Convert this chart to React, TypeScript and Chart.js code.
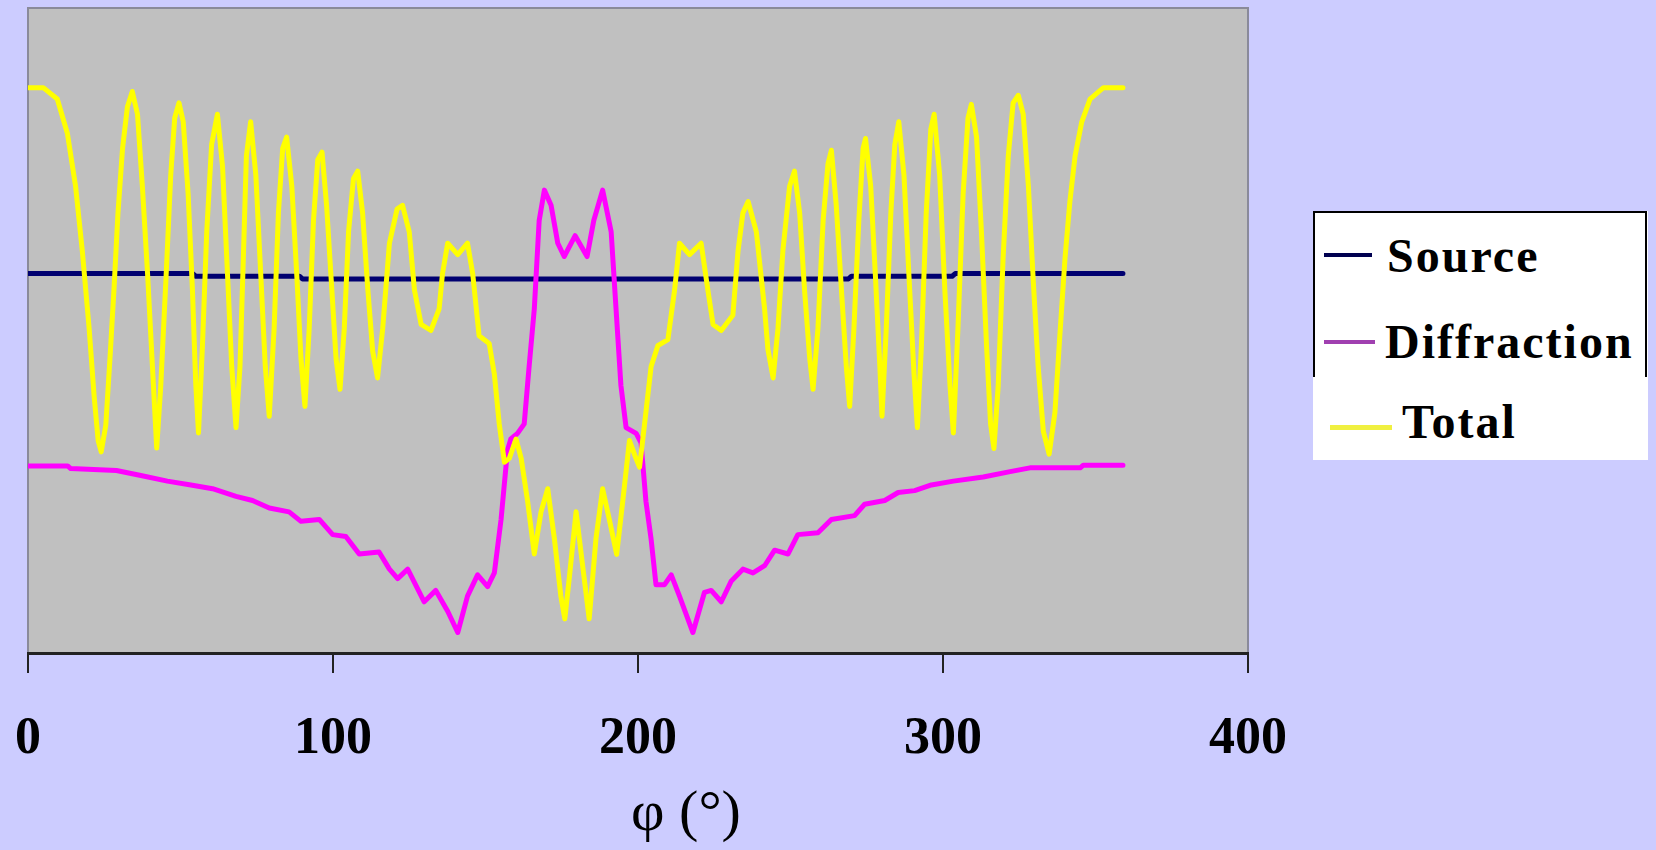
import React, { useEffect, useRef } from "react";
import { Chart, registerables } from "chart.js";

Chart.register(...registerables);

// x-axis ticks (degrees)
const xTicks = [0, 100, 200, 300, 400];

// Source series
const sourcePhi = [0, 54, 55, 89, 90, 269, 270, 303, 304, 359];
const sourceVal = [1.0, 1.0, 0.993, 0.993, 0.986, 0.986, 0.993, 0.993, 1.0, 1.0];

// Diffraction series
const diffPhi = [
  0, 13, 14, 29, 37, 45.7, 53.4, 60.5, 68.2, 73.6,
  79.1, 85.6, 89.5, 95.5, 99.9, 104.2, 108.6, 115.1, 118.5, 121.2,
  124.5, 129.9, 133.7, 137.6, 140.9, 144.1, 147.4, 150.7, 152.9, 155.1,
  157.2, 158.3, 160.5, 162.7, 164.3, 166, 167.6, 169.3, 171.5, 173.7,
  175.8, 179.4, 183.3, 185.5, 188.4, 191.2, 192.8, 194.4, 196.1, 199.4,
  201, 202.6, 204.3, 205.9, 208.7, 210.9, 213.6, 218, 221.8, 224,
  227.3, 230.6, 234.4, 237.7, 241.5, 244.8, 249.2, 252.4, 259, 263.4,
  271, 274.3, 280.9, 285.3, 290.7, 296.2, 303.4, 313.2, 322, 328.5,
  345, 346, 359,
];
const diffVal = [
  0.493, 0.493, 0.486, 0.481, 0.468, 0.453, 0.443, 0.433, 0.413, 0.402,
  0.382, 0.372, 0.347, 0.352, 0.312, 0.307, 0.261, 0.266, 0.221, 0.196,
  0.221, 0.135, 0.165, 0.11, 0.054, 0.15, 0.206, 0.175, 0.211, 0.352,
  0.534, 0.564, 0.579, 0.604, 0.755, 0.907, 1.14, 1.22, 1.18, 1.08,
  1.045, 1.1, 1.045, 1.14, 1.22, 1.11, 0.907, 0.705, 0.594, 0.579,
  0.554, 0.4, 0.3, 0.18, 0.18, 0.206, 0.15, 0.054, 0.16, 0.165,
  0.135, 0.19, 0.221, 0.211, 0.23, 0.271, 0.261, 0.312, 0.317, 0.352,
  0.362, 0.392, 0.402, 0.423, 0.428, 0.443, 0.453, 0.464, 0.478, 0.488,
  0.488, 0.495, 0.495,
];

// Total series
const totalPhi = [
  0, 5, 9.6, 12.9, 15.6, 17.8, 20, 21.7, 23, 24,
  25.5, 26.9, 28.2, 29.5, 31, 32.6, 34.2, 35.9, 37.5, 39.2,
  40.8, 42.2, 43.5, 45.2, 46.8, 48.1, 49.5, 50.9, 52.5, 53.9,
  55, 55.9, 57.2, 58.6, 60.2, 62.1, 63.8, 65.4, 66.8, 68.2,
  69.5, 70.6, 71.6, 73, 74.7, 76.3, 77.8, 79.1, 80.7, 82.1,
  83.5, 84.8, 86.5, 88.1, 89.5, 90.8, 92.2, 93.6, 95, 96.4,
  97.9, 99.6, 101, 102.3, 103.7, 105.1, 106.7, 108.1, 109.7, 111.4,
  113, 114.6, 116.3, 118.5, 121, 122.8, 125, 126.7, 128.9, 132.1,
  134.8, 135.9, 137.6, 140.9, 144.1, 145.8, 147.9, 151.2, 152.9, 154.5,
  156.2, 157.8, 160, 161.7, 163.8, 166, 168.2, 170.4, 172.6, 174.7,
  176, 177.5, 179.7, 182, 184, 186.2, 188.4, 190.6, 193, 195,
  197.2, 199, 200.5, 202.1, 204.3, 206.5, 209.8, 212, 213.6, 216.9,
  220.7, 222.9, 224.6, 227.3, 231.1, 232.8, 234.4, 236.1, 238.8, 241.5,
  242.6, 244.3, 245.9, 247.5, 249.7, 251.3, 253, 254.6, 256.3, 257.4,
  259, 260.7, 262.3, 263.4, 265, 266.7, 268.3, 269.4, 270.8, 272.4,
  273.8, 274.6, 276.3, 277.8, 279.3, 280, 281.4, 282.9, 284.2, 285.5,
  287.2, 288.8, 290.5, 291.6, 292.9, 294.5, 296, 297.1, 298.9, 300.6,
  302.3, 303.4, 304.9, 306.6, 308.2, 309.3, 311, 312.6, 314.3, 315.6,
  316.7, 318.1, 319.7, 321.4, 323, 324.7, 326.3, 328, 329.6, 331.2,
  332.9, 334.8, 336.7, 338.3, 340, 341.6, 343.3, 345.5, 348.2, 352.6,
  359,
];
const totalVal = [
  1.49, 1.49, 1.46, 1.37, 1.23, 1.06, 0.86, 0.675, 0.56, 0.53,
  0.6, 0.78, 0.96, 1.16, 1.33, 1.44, 1.48, 1.42, 1.23, 1.0,
  0.755, 0.54, 0.7, 0.98, 1.26, 1.41, 1.45, 1.4, 1.21, 0.96,
  0.71, 0.58, 0.81, 1.11, 1.34, 1.42, 1.28, 1.0, 0.755, 0.594,
  0.755, 1.04, 1.31, 1.4, 1.26, 1.0, 0.755, 0.624, 0.856, 1.16,
  1.33, 1.36, 1.23, 1.0, 0.776, 0.65, 0.856, 1.14, 1.3, 1.32,
  1.18, 0.96, 0.776, 0.695, 0.856, 1.11, 1.25, 1.27, 1.16, 0.96,
  0.796, 0.725, 0.856, 1.08, 1.17, 1.18, 1.11, 0.957, 0.866, 0.85,
  0.907, 1.0, 1.08, 1.05, 1.08, 1.0, 0.836, 0.816, 0.735, 0.604,
  0.503, 0.513, 0.564, 0.513, 0.4, 0.261, 0.372, 0.433, 0.3, 0.15,
  0.09, 0.2, 0.372, 0.22, 0.09, 0.3, 0.433, 0.352, 0.26, 0.4,
  0.56, 0.52, 0.49, 0.6, 0.755, 0.81, 0.826, 0.957, 1.08, 1.05,
  1.08, 0.957, 0.866, 0.85, 0.89, 1.06, 1.16, 1.19, 1.11, 0.907,
  0.8, 0.725, 0.856, 1.06, 1.23, 1.27, 1.16, 0.957, 0.776, 0.695,
  0.856, 1.14, 1.29, 1.325, 1.18, 0.957, 0.755, 0.65, 0.856, 1.14,
  1.33, 1.356, 1.23, 1.0, 0.755, 0.624, 0.856, 1.16, 1.34, 1.4,
  1.26, 1.0, 0.735, 0.594, 0.806, 1.16, 1.38, 1.42, 1.26, 0.957,
  0.705, 0.58, 0.856, 1.21, 1.41, 1.446, 1.36, 1.11, 0.806, 0.604,
  0.539, 0.705, 1.04, 1.31, 1.45, 1.47, 1.42, 1.23, 0.98, 0.755,
  0.584, 0.524, 0.634, 0.836, 1.04, 1.19, 1.31, 1.4, 1.46, 1.49,
  1.49,
];

const seriesNames = ["Source", "Diffraction", "Total"];
const xTitle = "φ (°)";

const toPoints = (xs: number[], ys: number[]) => xs.map((x, i) => ({ x, y: ys[i] }));

export default function App() {
  const canvasRef = useRef<HTMLCanvasElement | null>(null);

  useEffect(() => {
    if (!canvasRef.current) return;
    const plotFrame = {
      id: "plotFrame",
      beforeDraw(chart: any) {
        const { ctx, chartArea: a } = chart;
        ctx.save();
        ctx.fillStyle = "#C0C0C0";
        ctx.fillRect(a.left, a.top, a.right - a.left, a.bottom - a.top);
        ctx.strokeStyle = "#8a8a9a";
        ctx.lineWidth = 2;
        ctx.beginPath();
        ctx.moveTo(a.left, a.bottom);
        ctx.lineTo(a.left, a.top);
        ctx.lineTo(a.right, a.top);
        ctx.lineTo(a.right, a.bottom);
        ctx.stroke();
        ctx.restore();
      },
    };

    const lineStyle = {
      borderWidth: 5,
      pointRadius: 0,
      tension: 0,
      borderJoinStyle: "round" as const,
      borderCapStyle: "round" as const,
    };

    const chart = new Chart(canvasRef.current, {
      type: "line",
      data: {
        datasets: [
          { label: seriesNames[2], data: toPoints(totalPhi, totalVal), borderColor: "#FFFF00", order: 0, ...lineStyle },
          { label: seriesNames[1], data: toPoints(diffPhi, diffVal), borderColor: "#FF00FF", order: 1, ...lineStyle },
          { label: seriesNames[0], data: toPoints(sourcePhi, sourceVal), borderColor: "#000070", order: 2, ...lineStyle },
        ],
      },
      options: {
        responsive: false,
        animation: false,
        layout: { padding: { left: 28, right: 408, top: 8, bottom: 0 } },
        plugins: { legend: { display: false }, tooltip: { enabled: false } },
        scales: {
          x: {
            type: "linear",
            min: xTicks[0],
            max: xTicks[xTicks.length - 1],
            afterFit: (s: any) => {
              s.height = 197;
              s.paddingLeft = 0;
              s.paddingRight = 0;
            },
            afterBuildTicks: (s: any) => {
              s.ticks = xTicks.map((v) => ({ value: v }));
            },
            ticks: {
              padding: 35,
              color: "#000",
              maxRotation: 0,
              font: { family: "'Liberation Serif', 'Times New Roman', serif", size: 52, weight: "bold" },
            },
            grid: {
              drawOnChartArea: false,
              drawTicks: true,
              tickLength: 20,
              color: "#222",
              lineWidth: 2,
            },
            border: { display: true, color: "#222", width: 3 },
          },
          y: { display: false, min: 0, max: 1.7 },
        },
      },
      plugins: [plotFrame],
    });
    return () => chart.destroy();
  }, []);

  const legendFont: React.CSSProperties = {
    position: "absolute",
    fontFamily: "'Liberation Serif', 'Times New Roman', serif",
    fontWeight: "bold",
    fontSize: 48,
    lineHeight: "48px",
    letterSpacing: "2px",
    color: "#000",
    whiteSpace: "nowrap",
  };

  return (
    <div style={{ position: "fixed", left: 0, top: 0, width: 1656, height: 850, background: "#CCCCFF", overflow: "hidden" }}>
      <canvas ref={canvasRef} width={1656} height={850} style={{ position: "absolute", left: 0, top: 0, width: 1656, height: 850 }} />
      <div style={{ position: "absolute", left: 1313, top: 211, width: 335, height: 249, background: "#FFFFFF" }} />
      <div
        style={{
          position: "absolute",
          left: 1313,
          top: 211,
          width: 334,
          height: 166,
          boxSizing: "border-box",
          borderTop: "2px solid #000",
          borderLeft: "2px solid #000",
          borderRight: "2px solid #000",
        }}
      />
      <div style={{ position: "absolute", left: 1324, top: 253, width: 48, height: 4, background: "#000050" }} />
      <div style={{ position: "absolute", left: 1324, top: 340, width: 51, height: 4, background: "#A040B0" }} />
      <div style={{ position: "absolute", left: 1330, top: 425, width: 62, height: 5, background: "#F0F040" }} />
      <div style={{ ...legendFont, left: 1387, top: 232 }}>{seriesNames[0]}</div>
      <div style={{ ...legendFont, left: 1385, top: 318 }}>{seriesNames[1]}</div>
      <div style={{ ...legendFont, left: 1402, top: 398 }}>{seriesNames[2]}</div>
      <div
        style={{
          position: "absolute",
          left: 686,
          top: 782,
          transform: "translateX(-50%)",
          fontFamily: "'Liberation Serif', 'Times New Roman', serif",
          fontSize: 58,
          lineHeight: "58px",
          color: "#000",
          whiteSpace: "nowrap",
        }}
      >
        {xTitle}
      </div>
    </div>
  );
}
